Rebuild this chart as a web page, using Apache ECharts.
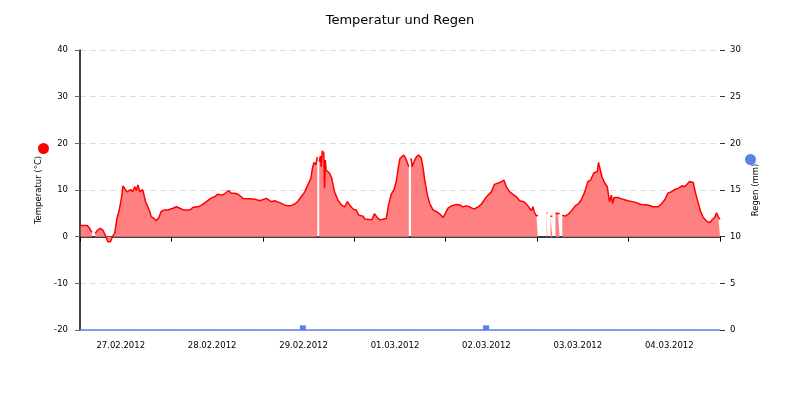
<!DOCTYPE html>
<html>
<head>
<meta charset="utf-8">
<script src="https://cdn.jsdelivr.net/npm/echarts@6/dist/echarts.min.js"></script>
<style>
  html, body { margin: 0; padding: 0; background: #fff; }
  #chart { width: 800px; height: 400px; }
</style>
</head>
<body>
<div id="chart"></div>
<script>
// Tage unter der x-Achse
var days = ['27.02.2012', '28.02.2012', '29.02.2012', '01.03.2012', '02.03.2012', '03.03.2012', '04.03.2012'];

// Temperatur: Stunden seit 27.02.2012 00:00 und Werte in °C (null = Messlücke)
var tempHours = [
  0.2, 1.9, 2.5, 3.1, 3.5, 4.0, 4.5, 5.3, 6.0, 6.6, 7.3, 8.0, 8.5, 9.1, 9.7, 10.3, 10.8, 11.3, 11.7, 12.3,
  12.8, 13.3, 13.8, 14.4, 14.8, 15.2, 15.7, 16.4, 16.7, 17.2, 17.8, 18.3, 18.7, 19.4, 20.0, 20.7, 21.3, 22.0, 23.1, 24.4,
  25.3, 26.2, 27.3, 28.8, 29.7, 31.0, 32.0, 33.2, 34.3, 35.4, 36.2, 37.3, 38.1, 39.0, 39.7, 40.6, 41.5, 42.8, 44.5, 45.9,
  47.2, 48.9, 50.2, 51.1, 52.4, 53.7, 54.6, 55.5, 56.4, 57.2, 58.1, 59.0, 59.8, 60.6, 61.0, 61.4, 61.9, 62.3, 62.55, 62.8,
  63.1, 63.3, 63.6, 64.0, 64.2, 64.4, 64.6, 65.5, 66.1, 66.8, 67.7, 68.6, 69.5, 70.2, 70.8, 71.7, 72.5, 73.2, 74.3, 74.7,
  76.0, 76.6, 77.3, 78.0, 78.7, 79.3, 79.8, 80.4, 81.0, 81.7, 82.4, 83.0, 83.6, 84.0, 84.5, 85.0, 85.6, 86.3, 86.7, 86.9,
  87.2, 87.7, 88.3, 88.9, 89.6, 90.0, 90.5, 91.2, 91.8, 92.7, 93.5, 94.4, 95.3, 95.9, 96.6, 97.5, 98.8, 99.7, 100.5, 101.4,
  102.3, 103.4, 104.5, 105.3, 106.2, 107.1, 108.0, 108.8, 110.2, 111.3, 111.9, 112.8, 113.6, 114.5, 115.4, 116.5, 117.4, 118.0, 118.5, 118.9,
  119.2, 119.8, 120.2, 121.3, 122.5, 122.7, 123.1, 123.5, 124.0, 124.4, 124.8, 125.5, 125.9, 126.2, 126.6, 127.4, 128.3, 129.1, 130.0, 130.9,
  131.6, 132.5, 133.3, 134.0, 134.9, 135.8, 136.1, 136.6, 137.0, 137.7, 138.4, 139.0, 139.5, 139.8, 140.2, 141.2, 142.5, 143.8, 145.6, 147.3,
  149.1, 150.4, 151.7, 152.6, 153.5, 154.3, 155.2, 156.1, 157.1, 158.0, 158.7, 159.4, 160.0, 160.4, 161.0, 161.5, 162.2, 162.9, 163.6, 164.4,
  165.3, 165.9, 166.6, 167.1, 167.6, 168.0
];
var tempValues = [
  2.4, 2.4, 1.8, 0.9, null, 0.7, 1.3, 1.8, 1.4, 0.4, -1.1, -1.1, 0, 0.7, 3.9, 5.7, 7.9, 10.9, 10.7, 9.6,
  9.3, 10.1, 9.6, 10.7, 9.9, 11.1, 9.6, 10.1, 9.3, 7.5, 6.4, 5.4, 4.3, 3.9, 3.4, 4.1, 5.4, 5.7, 5.7, 6.1,
  6.4, 6.1, 5.7, 5.7, 6.3, 6.4, 6.8, 7.5, 8.2, 8.6, 9.1, 8.9, 9.3, 9.9, 9.3, 9.3, 9.1, 8.2, 8.1, 8.0,
  7.7, 8.2, 7.5, 7.7, 7.3, 6.8, 6.6, 6.7, 7.0, 7.6, 8.6, 9.6, 11.1, 12.5, 14.6, 15.9, 15.4, 17.1, null, 16.1,
  17.3, 15.0, 18.4, 17.9, 10.4, 16.4, 14.3, 13.6, 12.5, 9.6, 7.9, 6.8, 6.4, 7.5, 6.8, 5.9, 5.7, 4.6, 4.4, 3.8,
  3.7, 3.6, 4.9, 4.1, 3.6, 3.7, 3.4, 3.9, 6.8, 9.1, 10.0, 11.8, 15.0, 16.8, 17.1, 17.5, 16.6, 15.0, null, 16.8,
  15.0, 16.1, 17.1, 17.5, 16.8, 15.0, 12.1, 8.9, 7.1, 5.7, 5.4, 4.9, 4.1, 5.0, 6.1, 6.6, 6.9, 6.8, 6.4, 6.6,
  6.4, 5.9, 6.4, 6.9, 8.0, 8.9, 9.6, 11.2, 11.6, 12.1, 10.7, 9.6, 9.1, 8.6, 7.7, 7.5, 6.8, 6.1, 5.6, 6.4,
  5.4, 4.4, 4.6, null, 5.1, 5.0, null, 4.4, 4.4, null, 5.1, 4.9, 5.0, null, 4.6, 4.4, 4.9, 5.6, 6.6, 7.1,
  7.9, 9.6, 11.8, 12.1, 13.7, 13.9, 15.9, 15.9, 12.9, 11.6, 10.7, 7.5, 8.9, 7.1, 8.4, 8.4, 8.0, 7.7, 7.4, 6.9,
  6.8, 6.4, 6.4, 7.0, 7.9, 9.3, 9.6, 10.1, 10.4, 10.9, 10.7, 11.3, 11.8, 12.0, 11.6, 9.6, 7.5, 5.4, 4.1, 3.4,
  3.0, 3.6, 4.1, 5.1, 4.1, 3.7
];

// Regen: Stunden und Menge in mm
var rainHours = [58.5, 106.6];
var rainValues = [0.5, 0.5];

var tempData = tempHours.map(function (h, i) { return [h, tempValues[i]]; });
var rainData = rainHours.map(function (h, i) { return [h, rainValues[i]]; });

var font = 'DejaVu Sans';
var myChart = echarts.init(document.getElementById('chart'));

var option = {
  animation: false,
  backgroundColor: '#fff',
  title: {
    text: 'Temperatur und Regen',
    left: 'center',
    top: 9,
    textStyle: { fontFamily: font, fontSize: 13, fontWeight: 'normal', color: '#000' }
  },
  legend: [
    {
      data: ['Temperatur'], left: 38, top: 143, padding: 0, icon: 'circle',
      itemWidth: 11, itemHeight: 11, selectedMode: false,
      formatter: function () { return ''; }
    },
    {
      data: ['Regen'], left: 745, top: 154, padding: 0, icon: 'circle',
      itemWidth: 11, itemHeight: 11, selectedMode: false,
      formatter: function () { return ''; }
    }
  ],
  grid: { left: 80, right: 80, top: 50, bottom: 70 },
  xAxis: [
    {
      type: 'value',
      min: 0,
      max: 168,
      interval: 24,
      offset: 1,
      axisLine: { show: true, lineStyle: { color: '#000', width: 1.5 } },
      axisTick: { show: true, length: 5, lineStyle: { color: '#000' } },
      axisLabel: { show: false },
      splitLine: { show: false }
    },
    {
      type: 'category',
      position: 'bottom',
      data: days,
      boundaryGap: true,
      axisLine: { show: false },
      axisTick: { show: false },
      axisLabel: {
        margin: 11,
        padding: [0, 10, 0, 0],
        fontFamily: font, fontSize: 8.5, color: '#000'
      }
    }
  ],
  yAxis: [
    {
      type: 'value',
      min: -20,
      max: 40,
      interval: 10,
      name: 'Temperatur (°C)',
      nameLocation: 'middle',
      nameRotate: 90,
      nameGap: 34,
      nameTextStyle: { fontFamily: font, fontSize: 8.5, color: '#000' },
      axisLine: { show: true, lineStyle: { color: '#000', width: 1.5 } },
      axisTick: { show: true, length: 5, lineStyle: { color: '#666' } },
      axisLabel: { margin: 12, fontFamily: font, fontSize: 8.5, color: '#000' },
      splitLine: { show: true, lineStyle: { color: '#dcdcdc', type: [6, 4], width: 1 } }
    },
    {
      type: 'value',
      min: 0,
      max: 30,
      interval: 5,
      name: 'Regen (mm)',
      nameLocation: 'middle',
      nameRotate: 90,
      nameGap: 30,
      nameTextStyle: { fontFamily: font, fontSize: 8.5, color: '#000' },
      axisLine: { show: false },
      axisTick: { show: true, length: 5, lineStyle: { color: '#333' } },
      axisLabel: { margin: 10, fontFamily: font, fontSize: 8.5, color: '#000' },
      splitLine: { show: false }
    }
  ],
  series: [
    {
      name: 'Temperatur',
      type: 'line',
      xAxisIndex: 0,
      yAxisIndex: 0,
      data: tempData,
      showSymbol: false,
      connectNulls: false,
      color: '#ff0000',
      lineStyle: { color: '#ff0000', width: 1.5 },
      areaStyle: { color: '#ff8080', opacity: 1 },
      z: 3
    },
    {
      name: 'Regen',
      type: 'bar',
      xAxisIndex: 0,
      yAxisIndex: 1,
      data: rainData,
      barWidth: 6,
      color: '#5b80e8',
      itemStyle: { color: '#5b80e8' },
      markLine: {
        silent: true,
        symbol: ['none', 'none'],
        label: { show: false },
        lineStyle: { color: '#5b80e8', type: 'solid', width: 1.5 },
        data: [{ yAxis: 0 }]
      },
      z: 4
    }
  ]
};

myChart.setOption(option);

window.addEventListener('resize', function () {
  myChart.resize();
});
</script>
</body>
</html>
